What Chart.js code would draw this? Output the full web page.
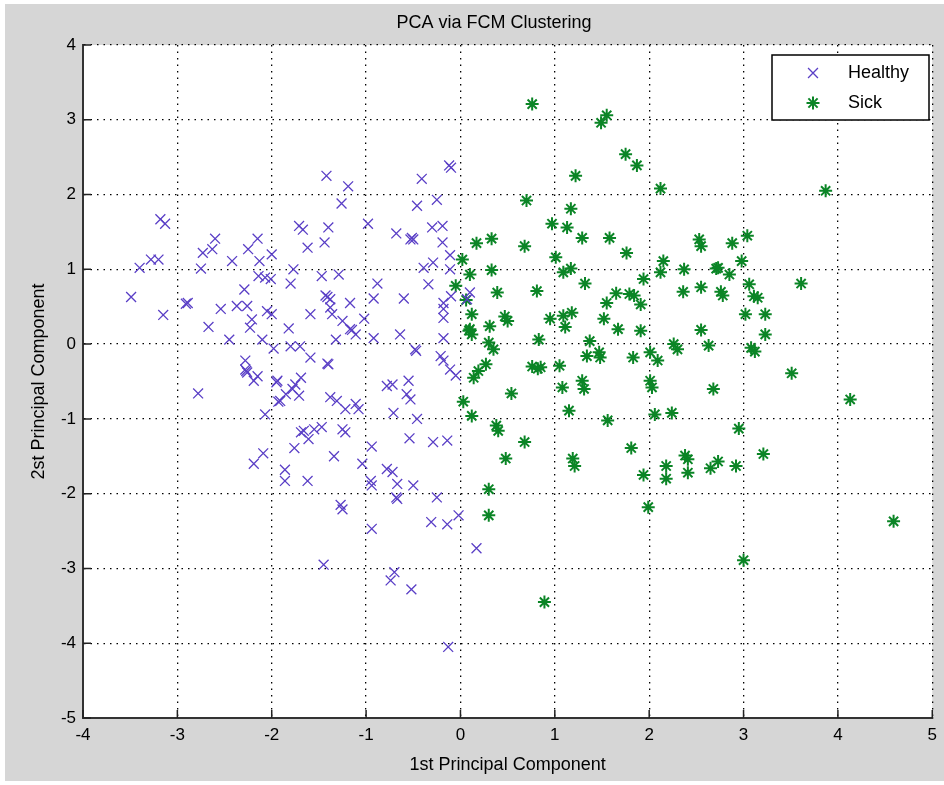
<!DOCTYPE html>
<html lang="en">
<head>
<meta charset="UTF-8">
<title>PCA via FCM Clustering</title>
<script src="https://cdn.jsdelivr.net/npm/chart.js"></script>
<style>
  html, body { margin: 0; padding: 0; background: #fff; }
</style>
</head>
<body>
<canvas id="pcaChart" width="944" height="785"></canvas>
<script>
// points
const healthyX = [
  -3.18, -3.13, -3.40, -3.28, -3.20, -2.60, -2.73, -2.63, -2.75, -2.42, -2.15, -2.25, -2.13, -2.00,
  -3.49, -3.15, -2.91, -2.89, -2.54, -2.67, -2.37, -2.26, -2.29, -2.14, -2.07, -2.01, -2.21, -2.23,
  -2.05, -2.00, -2.45, -2.10, -1.98, -2.28, -2.28, -2.26, -2.15, -2.19, -1.95, -1.93, -2.78, -2.07,
  -2.09, -2.19,
  -0.12, -0.10, -0.41, -1.42, -1.19, -1.26, -0.25, -0.46, -0.98, -1.71, -1.67, -1.40, -1.44, -1.62,
  -0.68, -0.53, -0.50, -0.515, -0.30, -0.19, -0.19, -0.11, -1.77, -1.47, -1.29, -0.39, -0.29, -0.11,
  -1.80, -0.88, -0.34, -1.43, -1.38, -1.17, -1.59, -1.38, -1.36, -0.92, -0.60, -0.18, -0.18, -0.18,
  -1.82, -1.25, -1.17, -1.11, -1.02, -1.32, -0.92, -0.64, -0.18, -1.80, -1.70, -1.59, -1.41, -0.48,
  -0.21, -0.18, -0.11, -0.05, -1.94, -1.69, -1.75, -1.78, -1.85, -1.91, -1.71, -1.38, -1.31, -1.22,
  -1.11, -1.08, -0.78, -0.72, -0.55, -0.57, -0.53, -0.71, -0.46, -1.66, -1.69, -1.61, -1.47, -1.55,
  -1.25, -1.22, -1.76, -1.34, -0.94, -0.54, -0.29, -0.14, -1.86, -1.86, -1.62, -1.04, -0.78, -0.72,
  -0.95, -0.94, -0.67, -0.68, -0.50, -0.25,
  -1.41, -1.15, -1.40, -0.47, -0.67, -2.27,
  -1.27, -1.25, -0.94, -0.31, -0.14, -0.02, -1.45, -0.70, -0.74, -0.52, -0.13,
  0.10, 0.07, -0.10, 0.17
];
const healthyY = [
  1.67, 1.61, 1.02, 1.13, 1.13, 1.41, 1.22, 1.27, 1.01, 1.11, 1.41, 1.27, 1.11, 1.20,
  0.63, 0.39, 0.54, 0.55, 0.47, 0.23, 0.51, 0.51, 0.73, 0.91, 0.89, 0.87, 0.33, 0.22,
  0.44, 0.40, 0.06, 0.06, -0.06, -0.22, -0.34, -0.38, -0.43, -0.49, -0.51, -0.77, -0.66, -0.94,
  -1.46, -1.60,
  2.39, 2.36, 2.21, 2.25, 2.11, 1.88, 1.93, 1.85, 1.61, 1.58, 1.53, 1.56, 1.36, 1.29,
  1.48, 1.40, 1.40, 1.42, 1.56, 1.58, 1.36, 1.19, 1.00, 0.91, 0.93, 1.02, 1.09, 1.00,
  0.81, 0.81, 0.80, 0.65, 0.60, 0.55, 0.40, 0.49, 0.40, 0.61, 0.61, 0.55, 0.47, 0.35,
  0.21, 0.31, 0.20, 0.13, 0.34, 0.06, 0.08, 0.13, 0.08, -0.03, -0.03, -0.18, -0.26, -0.07,
  -0.16, -0.22, -0.34, -0.42, -0.49, -0.45, -0.54, -0.60, -0.67, -0.76, -0.69, -0.71, -0.76, -0.87,
  -0.80, -0.87, -0.56, -0.54, -0.49, -0.67, -0.74, -0.92, -1.00, -1.16, -1.18, -1.27, -1.11, -1.14,
  -1.14, -1.18, -1.39, -1.50, -1.37, -1.26, -1.31, -1.29, -1.68, -1.83, -1.83, -1.60, -1.67, -1.71,
  -1.83, -1.89, -1.87, -2.05, -1.89, -2.05,
  0.63, 0.19, -0.27, -0.09, -2.07, -0.36,
  -2.15, -2.21, -2.47, -2.38, -2.41, -2.29, -2.95, -3.05, -3.16, -3.28, -4.05,
  0.69, 0.60, 0.64, -2.73
];
const sickX = [
  0.76, 1.55, 1.49, 1.75, 1.87, 1.22, 2.12, 0.70, 1.17, 0.97, 1.13, 1.29, 1.58, 1.76,
  0.17, 0.33, 0.68, 0.02, 1.01, 0.10, 0.33, 1.09, 1.17, 2.15, 2.12, 2.37,
  3.87, 2.53, 2.55, 2.88, 3.04, 2.98, 2.71, 2.73, 2.85,
  1.32, 1.94, 2.36, -0.05, 0.06, 0.39, 0.81, 0.12, 0.10, 0.12, 0.09, 0.31, 0.47, 0.50,
  0.30, 0.35, 0.83, 0.95, 1.09, 1.18, 1.11, 1.55, 1.65, 1.79, 1.84, 1.91, 1.52, 1.67,
  1.91, 1.37, 1.34, 1.47, 1.48, 1.83, 2.01, 2.09, 2.26, 2.30, 0.27, 0.19, 0.14, 0.76,
  0.82, 0.85, 1.05, 1.08, 0.54, 1.29, 1.31, 2.01, 2.03, 0.03, 0.12, 1.15, 1.56, 2.06,
  2.24, 0.38, 0.40, 0.68, 1.81, 0.48, 1.19, 1.21, 1.94, 2.18, 2.18, 2.38, 0.30, 1.99,
  3.06, 3.61, 2.55, 2.76, 2.78, 3.11, 3.15, 3.02, 3.23, 3.23, 2.55, 2.63, 3.08, 3.12,
  3.51, 2.68, 4.13, 2.95, 2.41, 2.41, 2.65, 2.73, 2.92, 3.21,
  0.30, 3.00, 4.59, 0.89
];
const sickY = [
  3.21, 3.06, 2.96, 2.54, 2.39, 2.25, 2.08, 1.92, 1.81, 1.61, 1.56, 1.42, 1.42, 1.22,
  1.35, 1.41, 1.31, 1.13, 1.16, 0.93, 0.99, 0.96, 1.01, 1.11, 0.96, 1.00,
  2.05, 1.40, 1.31, 1.35, 1.45, 1.11, 1.01, 1.02, 0.93,
  0.81, 0.87, 0.70, 0.78, 0.59, 0.69, 0.71, 0.40, 0.20, 0.13, 0.18, 0.24, 0.37, 0.31,
  0.02, -0.07, 0.06, 0.34, 0.38, 0.42, 0.23, 0.55, 0.68, 0.67, 0.65, 0.53, 0.34, 0.20,
  0.18, 0.04, -0.16, -0.11, -0.18, -0.18, -0.11, -0.22, 0.00, -0.07, -0.27, -0.36, -0.45, -0.30,
  -0.33, -0.31, -0.29, -0.58, -0.66, -0.49, -0.60, -0.49, -0.58, -0.77, -0.96, -0.89, -1.02, -0.94,
  -0.92, -1.09, -1.16, -1.31, -1.39, -1.53, -1.53, -1.63, -1.75, -1.63, -1.80, -1.49, -1.94, -2.18,
  0.80, 0.81, 0.76, 0.70, 0.65, 0.64, 0.62, 0.40, 0.40, 0.13, 0.19, -0.02, -0.05, -0.10,
  -0.39, -0.60, -0.74, -1.13, -1.54, -1.72, -1.66, -1.57, -1.63, -1.47,
  -2.29, -2.89, -2.37, -3.45
];
const xTicks = [-4, -3, -2, -1, 0, 1, 2, 3, 4, 5];
const yTicks = [-5, -4, -3, -2, -1, 0, 1, 2, 3, 4];
const seriesNames = ['Healthy', 'Sick'];

const FONT = "'Liberation Sans', Arial, sans-serif";

function toPoints(xs, ys) {
  return xs.map((x, i) => ({ x: x, y: ys[i] }));
}

// grey figure, white axes
const background = {
  id: 'background',
  beforeDraw(chart) {
    const ctx = chart.ctx;
    const a = chart.chartArea;
    ctx.save();
    ctx.fillStyle = '#ffffff';
    ctx.fillRect(0, 0, chart.width, chart.height);
    ctx.fillStyle = '#d6d6d6';
    ctx.fillRect(5, 4, chart.width - 5, chart.height - 8);
    ctx.fillStyle = '#ffffff';
    ctx.fillRect(a.left, a.top, a.right - a.left, a.bottom - a.top);
    ctx.restore();
  }
};

// matlab style: ticks inside, title, boxed legend
const decorations = {
  id: 'decorations',
  afterDatasetsDraw(chart) {
    const ctx = chart.ctx;
    const a = chart.chartArea;
    const xs = chart.scales.x;
    const ys = chart.scales.y;
    ctx.save();
    ctx.strokeStyle = '#222';
    ctx.lineWidth = 1.5;
    ctx.beginPath();
    xTicks.forEach(v => {
      const px = xs.getPixelForValue(v);
      ctx.moveTo(px, a.bottom);
      ctx.lineTo(px, a.bottom - 8);
    });
    yTicks.forEach(v => {
      const py = ys.getPixelForValue(v);
      ctx.moveTo(a.left, py);
      ctx.lineTo(a.left + 8, py);
    });
    ctx.stroke();

    // title
    ctx.fillStyle = '#000';
    ctx.font = '18px ' + FONT;
    ctx.textAlign = 'center';
    ctx.textBaseline = 'middle';
    ctx.fillText('PCA via FCM Clustering', 494, 23);

    // legend
    const lx = 772, ly = 55, lw = 157, lh = 65;
    ctx.fillStyle = '#fff';
    ctx.fillRect(lx, ly, lw, lh);
    ctx.strokeStyle = '#000';
    ctx.lineWidth = 1.5;
    ctx.strokeRect(lx, ly, lw, lh);
    chart.data.datasets.forEach((ds, i) => {
      const cy = ly + 18 + i * 30;
      ctx.strokeStyle = ds.borderColor;
      ctx.fillStyle = ds.borderColor;
      ctx.lineWidth = ds.borderWidth;
      Chart.helpers.drawPoint(ctx, {
        pointStyle: ds.pointStyle,
        radius: ds.pointRadius,
        rotation: 0,
        borderWidth: ds.borderWidth
      }, 813, cy);
      ctx.fillStyle = '#000';
      ctx.font = '18px ' + FONT;
      ctx.textAlign = 'left';
      ctx.textBaseline = 'middle';
      ctx.fillText(seriesNames[i], 848, cy);
    });
    ctx.restore();
  }
};

const ctx = document.getElementById('pcaChart').getContext('2d');
const pcaChart = new Chart(ctx, {
  type: 'scatter',
  data: {
    datasets: [
      {
        label: seriesNames[0],
        data: toPoints(healthyX, healthyY),
        pointStyle: 'crossRot',
        pointRadius: 7,
        borderColor: '#5a3fc6',
        backgroundColor: '#5a3fc6',
        borderWidth: 1.3
      },
      {
        label: seriesNames[1],
        data: toPoints(sickX, sickY),
        pointStyle: 'star',
        pointRadius: 6.5,
        borderColor: '#0b8526',
        backgroundColor: '#0b8526',
        borderWidth: 2
      }
    ]
  },
  options: {
    responsive: false,
    animation: false,
    layout: { padding: { top: 45, right: 9, left: 0, bottom: 0 } },
    plugins: {
      legend: { display: false },
      tooltip: { enabled: false },
      title: { display: false }
    },
    scales: {
      x: {
        type: 'linear',
        min: -4,
        max: 5,
        afterBuildTicks: s => { s.ticks = xTicks.map(v => ({ value: v })); },
        afterFit: s => { s.height = 67; },
        grid: { color: '#000', lineWidth: 1.3, drawTicks: false },
        border: { display: true, color: '#333', width: 2, dash: [1.5, 5] },
        ticks: { color: '#000', font: { family: FONT, size: 17 }, padding: 7 },
        title: {
          display: true,
          text: '1st Principal Component',
          color: '#000',
          font: { family: FONT, size: 18 },
          padding: { top: 0, bottom: 9 }
        }
      },
      y: {
        type: 'linear',
        min: -5,
        max: 4,
        afterBuildTicks: s => { s.ticks = yTicks.map(v => ({ value: v })); },
        afterFit: s => { s.width = 83; },
        grid: { color: '#000', lineWidth: 1.3, drawTicks: false },
        border: { display: true, color: '#333', width: 2, dash: [1.5, 5] },
        ticks: { color: '#000', font: { family: FONT, size: 17 }, padding: 7 },
        title: {
          display: true,
          text: '2st Principal Component',
          color: '#000',
          font: { family: FONT, size: 18 },
          padding: { top: 28, bottom: 0 }
        }
      }
    }
  },
  plugins: [background, decorations]
});
</script>
</body>
</html>
